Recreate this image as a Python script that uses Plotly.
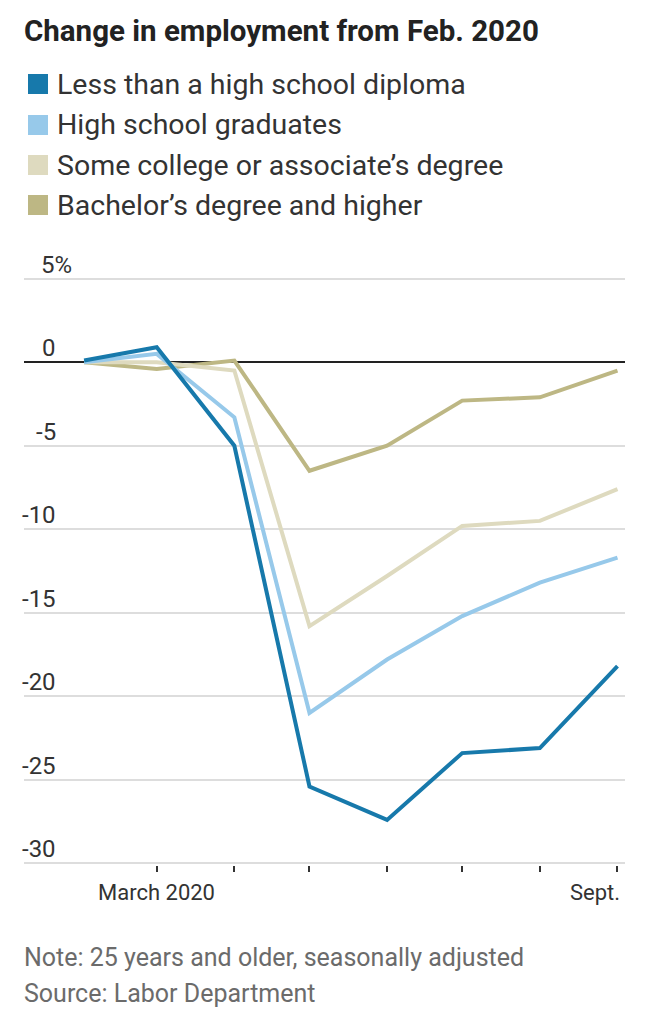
import plotly.graph_objects as go

months = ["2020-02-01", "2020-03-01", "2020-04-01", "2020-05-01",
          "2020-06-01", "2020-07-01", "2020-08-01", "2020-09-01"]

less_than_hs = [0.1, 0.9, -5.0, -25.4, -27.4, -23.4, -23.1, -18.2]
hs_grads = [0.0, 0.5, -3.3, -21.0, -17.8, -15.2, -13.2, -11.7]
some_college = [0.0, 0.0, -0.5, -15.8, -12.8, -9.8, -9.5, -7.6]
bachelors = [0.0, -0.4, 0.1, -6.5, -5.0, -2.3, -2.1, -0.5]

series = [
    ("Less than a high school diploma", less_than_hs, "#1779ab"),
    ("High school graduates", hs_grads, "#97c9ea"),
    ("Some college or associate’s degree", some_college, "#dedabf"),
    ("Bachelor’s degree and higher", bachelors, "#bdb784"),
]

y_ticks = [5, 0, -5, -10, -15, -20, -25, -30]
y_labels = ["5%", "0", "-5", "-10", "-15", "-20", "-25", "-30"]

FONT = "Roboto"
TEXT = "#333333"

# the page adds an 8px body margin, so the figure is 8px smaller than the window
PAGE = 8
W, H = 652 - PAGE, 1036 - PAGE
L, R, T, B = 24 - PAGE, 27, 277 - PAGE, 171
PW, PH = W - L - R, H - T - B


def px(x):
    # window pixel -> paper x
    return (x - PAGE - L) / PW


def py(y):
    # window pixel -> paper y
    return (H - B - (y - PAGE)) / PH


fig = go.Figure()

# lines, drawn back to front so the darkest blue sits on top
for name, vals, color in reversed(series):
    fig.add_trace(
        go.Scatter(
            x=months,
            y=vals,
            mode="lines",
            line=dict(color=color, width=4),
            name=name,
            showlegend=False,
            hoverinfo="skip",
        )
    )

# hand-made legend: coloured squares with labels
legend_rows = [84, 125, 165, 205]
for (name, vals, color), cy in zip(series, legend_rows):
    fig.add_shape(
        type="rect", xref="paper", yref="paper",
        x0=px(28), x1=px(48), y0=py(cy + 10), y1=py(cy - 10),
        fillcolor=color, line_width=0,
    )
    fig.add_annotation(
        x=px(55), xref="paper", y=py(cy), yref="paper",
        text=name, showarrow=False, xanchor="left", yanchor="middle",
        font=dict(family=FONT, size=28.5, color=TEXT),
    )

fig.add_annotation(
    x=px(22), xref="paper", y=py(31), yref="paper",
    text="<b>Change in employment from Feb. 2020</b>",
    showarrow=False, xanchor="left", yanchor="middle",
    font=dict(family=FONT, size=29.5, color="#222222"),
)

# y tick labels above their gridlines, numbers right-aligned, "%" hanging out
for v, lab in zip(y_ticks, y_labels):
    fig.add_annotation(
        x=px(58), xref="paper", y=v, yref="y",
        text=lab, showarrow=False,
        xanchor="right", yanchor="bottom", yshift=-2,
        xshift=16 if lab.endswith("%") else 0,
        font=dict(family=FONT, size=24, color=TEXT),
    )

fig.add_annotation(
    x=months[1], xref="x", y=py(892), yref="paper", text="March 2020",
    showarrow=False, xanchor="center", yanchor="middle",
    font=dict(family=FONT, size=22, color=TEXT),
)
fig.add_annotation(
    x=months[-1], xref="x", y=py(892), yref="paper", text="Sept.",
    showarrow=False, xanchor="right", yanchor="middle", xshift=5,
    font=dict(family=FONT, size=22, color=TEXT),
)

for line, cy in [("Note: 25 years and older, seasonally adjusted", 957),
                 ("Source: Labor Department", 993)]:
    fig.add_annotation(
        x=px(22), xref="paper", y=py(cy), yref="paper",
        text=line, showarrow=False, xanchor="left", yanchor="middle",
        font=dict(family=FONT, size=25, color="#6b6b6b"),
    )

fig.update_layout(
    width=W,
    height=H,
    margin=dict(l=L, r=R, t=T, b=B, autoexpand=False),
    paper_bgcolor="white",
    plot_bgcolor="white",
    showlegend=False,
    xaxis=dict(
        type="date",
        range=["2020-01-08", "2020-09-04"],
        tickvals=months[1:],
        ticktext=[""] * 7,
        ticks="outside",
        ticklen=6,
        tickwidth=1.5,
        tickcolor=TEXT,
        showgrid=False,
        zeroline=False,
        showline=False,
        fixedrange=True,
    ),
    yaxis=dict(
        range=[-30.1, 5.1],
        tickvals=y_ticks,
        showticklabels=False,
        showgrid=True,
        gridcolor="#dddddd",
        gridwidth=1.5,
        zeroline=True,
        zerolinecolor="#222222",
        zerolinewidth=1.5,
        showline=False,
        fixedrange=True,
    ),
)

fig.write_html("out.html")
